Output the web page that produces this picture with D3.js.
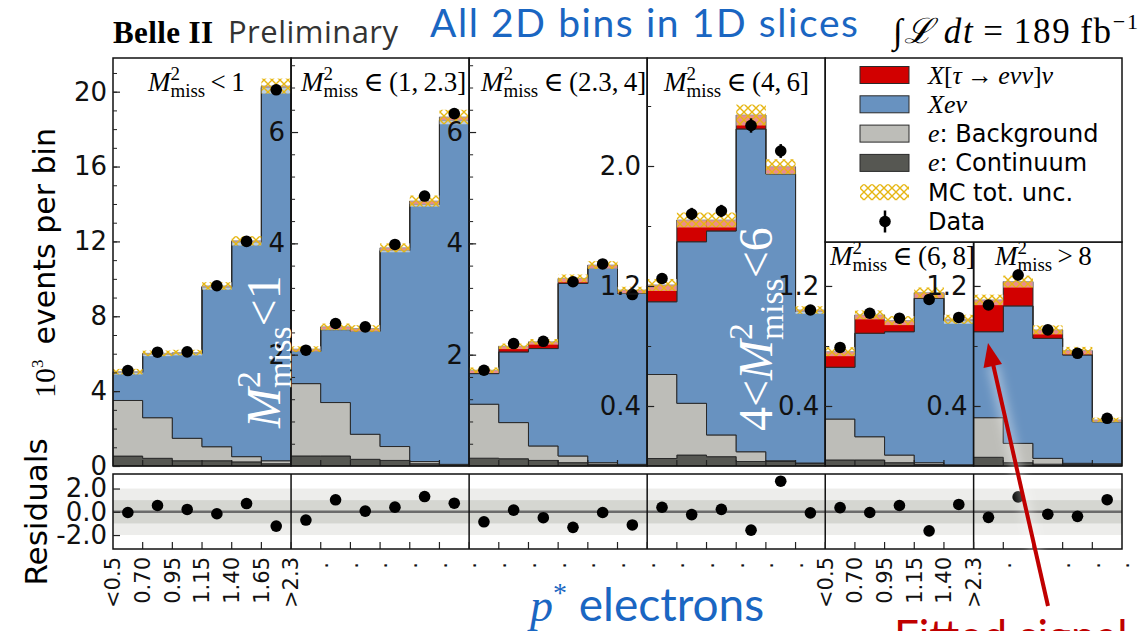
<!DOCTYPE html>
<html>
<head>
<meta charset="utf-8">
<script src="https://d3js.org/d3.v7.min.js"></script>
<style>
body {margin: 0; background: white;}
</style>
</head>
<body>
<svg id="chart" width="1145" height="631"></svg>
<script>
// ---- data (units of 10^3 events) ----
var nBins = [6, 6, 6, 6, 5, 5];
var panelCuts = ["<\u20091", "\u2208\u2009(1,\u20092.3]", "\u2208\u2009(2.3,\u20094]", "\u2208\u2009(4,\u20096]", "\u2208\u2009(6,\u20098]", ">\u20098"];
var edgeLabels = [
  ["<0.5", "0.70", "0.95", "1.15", "1.40", "1.65", ">2.3"],
  [], [], [],
  ["<0.5", "0.70", "0.95", "1.15", "1.40", ">2.3"],
  []
];
var continuum = [
  [0.53, 0.41, 0.28, 0.28, 0.22, 0.12],
  [0.18, 0.18, 0.12, 0.10, 0.04, 0.02],
  [0.14, 0.13, 0.10, 0.06, 0.03, 0.02],
  [0.05, 0.073, 0.062, 0.03, 0.03, 0.02],
  [0.04, 0.04, 0.022, 0.01, 0.005],
  [0.058, 0.022, 0.012, 0.01, 0.01]
];
var background = [
  [2.97, 2.17, 1.20, 0.75, 0.28, 0.16],
  [1.30, 0.96, 0.45, 0.25, 0.04, 0.01],
  [0.97, 0.65, 0.26, 0.12, 0.03, 0.01],
  [0.56, 0.345, 0.145, 0.065, 0.005, 0.0],
  [0.273, 0.155, 0.051, 0.012, 0.003],
  [0.264, 0.129, 0.039, 0.008, 0.005]
];
var xenu = [
  [1.50, 3.39, 4.53, 8.53, 11.47, 19.94],
  [0.58, 1.31, 1.85, 3.52, 4.62, 6.18],
  [0.55, 1.27, 1.75, 3.10, 3.49, 3.07],
  [0.485, 1.077, 1.36, 2.152, 1.912, 1.01],
  [0.345, 0.69, 0.822, 1.096, 0.961],
  [0.573, 0.916, 0.80, 0.722, 0.28]
];
var signal = [
  [0.04, 0.05, 0.05, 0.06, 0.06, 0.08],
  [0.04, 0.05, 0.05, 0.05, 0.06, 0.06],
  [0.06, 0.10, 0.12, 0.09, 0.06, 0.06],
  [0.112, 0.145, 0.073, 0.093, 0.048, 0.01],
  [0.104, 0.122, 0.074, 0.037, 0.009],
  [0.212, 0.162, 0.056, 0.029, 0.012]
];
var mcUnc = [
  [0.15, 0.15, 0.15, 0.2, 0.25, 0.4],
  [0.05, 0.06, 0.06, 0.08, 0.1, 0.13],
  [0.05, 0.05, 0.05, 0.07, 0.07, 0.06],
  [0.04, 0.05, 0.05, 0.07, 0.05, 0.025],
  [0.03, 0.03, 0.03, 0.035, 0.03],
  [0.035, 0.04, 0.03, 0.025, 0.015]
];
var dataVals = [
  [5.10, 6.08, 6.10, 9.63, 12.0, 20.1],
  [2.08, 2.56, 2.50, 3.98, 4.85, 6.33],
  [1.72, 2.20, 2.24, 3.31, 3.63, 3.08],
  [1.25, 1.68, 1.70, 2.27, 2.10, 1.04],
  [0.79, 1.018, 0.985, 1.11, 0.99],
  [1.073, 1.273, 0.907, 0.751, 0.318]
];
var dataErr = [
  [0.07, 0.08, 0.08, 0.10, 0.11, 0.14],
  [0.045, 0.05, 0.05, 0.063, 0.07, 0.08],
  [0.04, 0.047, 0.047, 0.058, 0.06, 0.055],
  [0.035, 0.041, 0.041, 0.048, 0.046, 0.032],
  [0.028, 0.032, 0.031, 0.033, 0.031],
  [0.033, 0.036, 0.03, 0.027, 0.018]
];
var residuals = [
  [-0.06, 0.54, 0.20, -0.17, 0.71, -1.23],
  [-0.71, 1.03, 0.06, 0.40, 1.31, 0.74],
  [-0.86, 0.14, -0.51, -1.34, -0.06, -1.13],
  [0.39, -0.24, 0.21, -1.58, 2.63, -0.09],
  [0.36, -0.06, 0.54, -1.64, 0.63],
  [-0.48, 1.28, -0.21, -0.39, 1.04]
];
var yMax = [21.8, 7.33, 7.33, 2.72, 1.493, 1.493];
var yMajor = [[0, 4, 8, 12, 16, 20], [2, 4, 6], [2, 4, 6], [0.4, 1.2, 2.0], [0.4, 1.2], [0.4, 1.2]];
var yMinorStep = [1, 0.4, 0.4, 0.4, 0.4, 0.4];
var resTicks = [-2, 0, 2];
var legendNames = ["sig", "xe", "bg", "cont", "unc", "data"];

// ---- layout ----
var serif = "'Liberation Serif', 'DejaVu Serif', serif";
var sans = "'DejaVu Sans', sans-serif";
var blueTxt = "#1a66c2";
var colors = {cont: "#565752", bg: "#bdbdb8", xe: "#6892c0", sig: "#d20000"};
var L = 113, R = 1122, T = 58, B = 466, LEGB = 242, RT = 474, RB = 549;

var svg = d3.select("#chart").attr("font-family", sans);
var defs = svg.append("defs");
var pat = defs.append("pattern").attr("id", "hatch")
  .attr("patternUnits", "userSpaceOnUse").attr("width", 8).attr("height", 8);
pat.append("rect").attr("width", 8).attr("height", 8).attr("fill", "white").attr("fill-opacity", 0.55);
pat.append("path").attr("d", "M-1,-1 L9,9 M9,-1 L-1,9")
  .attr("stroke", "#e6b612").attr("stroke-width", 1.4);
defs.append("filter").attr("id", "glow").attr("x", "-50%").attr("y", "-50%")
  .attr("width", "200%").attr("height", "200%")
  .append("feGaussianBlur").attr("stdDeviation", 5);

var starts = [0];
nBins.forEach(function(n) { starts.push(starts[starts.length - 1] + n); });
var x = d3.scaleLinear().domain([0, d3.sum(nBins)]).range([L, R]);
var yRes = d3.scaleLinear().domain([-3.2, 3.25]).range([RB, RT]);

function mMiss(t, fs, after) {
  t.append("tspan").attr("font-style", "italic").text("M");
  t.append("tspan").attr("font-size", fs * 0.7).attr("dy", -fs * 0.42).text("2");
  t.append("tspan").attr("font-size", fs * 0.7).attr("dx", -fs * 0.35).attr("dy", fs * 0.64).text("miss");
  t.append("tspan").attr("dy", -fs * 0.22).text(after);
}

// ---- upper panels ----
nBins.forEach(function(n, p) {
  var s = starts[p];
  var top = p < 4 ? T : LEGB;
  var y = d3.scaleLinear().domain([0, yMax[p]]).range([B, top]);
  var g = svg.append("g");
  var rows = d3.range(n).map(function(i) {
    return {cont: continuum[p][i], bg: background[p][i], xe: xenu[p][i], sig: signal[p][i]};
  });
  var stack = d3.stack().keys(["cont", "bg", "xe", "sig"])(rows);
  var area = d3.area().x(function(d) { return d.x; })
    .y0(function(d) { return y(d.lo); }).y1(function(d) { return y(d.hi); });

  stack.forEach(function(layer) {
    var pts = [];
    layer.forEach(function(d, i) {
      pts.push({x: x(s + i), lo: d[0], hi: d[1]});
      pts.push({x: x(s + i + 1), lo: d[0], hi: d[1]});
    });
    g.append("path").attr("d", area(pts))
      .attr("fill", colors[layer.key]).attr("stroke", "#2a2a2a").attr("stroke-width", 1);
  });

  var tot = stack[3].map(function(d) { return d[1]; });
  // MC uncertainty band
  g.selectAll("rect.unc").data(tot).enter().append("rect").attr("class", "unc")
    .attr("x", function(d, i) { return x(s + i); })
    .attr("width", function(d, i) { return x(s + i + 1) - x(s + i); })
    .attr("y", function(d, i) { return y(d + mcUnc[p][i]); })
    .attr("height", function(d, i) { return y(d - mcUnc[p][i]) - y(d + mcUnc[p][i]); })
    .attr("fill", "url(#hatch)");

  // data points
  g.selectAll("line.err").data(dataVals[p]).enter().append("line")
    .attr("x1", function(d, i) { return x(s + i + 0.5); })
    .attr("x2", function(d, i) { return x(s + i + 0.5); })
    .attr("y1", function(d, i) { return y(d - dataErr[p][i]); })
    .attr("y2", function(d, i) { return y(d + dataErr[p][i]); })
    .attr("stroke", "black").attr("stroke-width", 2.5);
  g.selectAll("circle.dat").data(dataVals[p]).enter().append("circle")
    .attr("cx", function(d, i) { return x(s + i + 0.5); })
    .attr("cy", function(d) { return y(d); })
    .attr("r", 5.8).attr("fill", "black");

  // bottom ticks at bin edges
  d3.range(1, n).forEach(function(k) {
    g.append("line").attr("x1", x(s + k)).attr("x2", x(s + k)).attr("y1", B).attr("y2", B - 6)
      .attr("stroke", "#222").attr("stroke-width", 1.2);
  });

  // frame
  g.append("rect").attr("x", x(s)).attr("y", top).attr("width", x(s + n) - x(s)).attr("height", B - top)
    .attr("fill", "none").attr("stroke", "#111").attr("stroke-width", 1.5);

  // y axis (ticks point into the panel, labels on the left)
  var fmt = p < 3 ? d3.format("d") : d3.format(".1f");
  var ax = g.append("g").attr("transform", "translate(" + x(s) + ",0)")
    .call(d3.axisLeft(y).tickValues(yMajor[p]).tickSize(-7).tickPadding(6).tickFormat(fmt));
  ax.select(".domain").remove();
  ax.selectAll("line").attr("stroke", "#222").attr("stroke-width", 1.2);
  ax.selectAll("text").attr("font-size", 26).attr("font-family", sans).attr("fill", "#111");
  var minor = d3.range(yMinorStep[p], yMax[p], yMinorStep[p]);
  var axm = g.append("g").attr("transform", "translate(" + x(s) + ",0)")
    .call(d3.axisLeft(y).tickValues(minor).tickSize(-4).tickFormat(""));
  axm.select(".domain").remove();
  axm.selectAll("line").attr("stroke", "#222").attr("stroke-width", 1);

  // panel title
  var lx = [148, 301, 481, 664, 830, 995][p];
  var ly = p < 4 ? 91 : 265;
  var t = svg.append("text").attr("x", lx).attr("y", ly).attr("font-family", serif).attr("font-size", 27);
  mMiss(t, 27, "\u2009" + panelCuts[p]);
});

// ---- residual panel ----
var rg = svg.append("g");
rg.append("rect").attr("x", L).attr("y", yRes(2)).attr("width", R - L).attr("height", yRes(-2) - yRes(2)).attr("fill", "#ededeb");
rg.append("rect").attr("x", L).attr("y", yRes(1)).attr("width", R - L).attr("height", yRes(-1) - yRes(1)).attr("fill", "#d5d6d1");
rg.append("line").attr("x1", L).attr("x2", R).attr("y1", yRes(0)).attr("y2", yRes(0))
  .attr("stroke", "#6b6b6b").attr("stroke-width", 2.5);
nBins.forEach(function(n, p) {
  var s = starts[p];
  rg.selectAll(null).data(residuals[p]).enter().append("circle")
    .attr("cx", function(d, i) { return x(s + i + 0.5); })
    .attr("cy", function(d) { return yRes(d); })
    .attr("r", 5.8).attr("fill", "black");
  if (p > 0) rg.append("line").attr("x1", x(s)).attr("x2", x(s)).attr("y1", RT).attr("y2", RB)
    .attr("stroke", "#111").attr("stroke-width", 1.5);
});
d3.range(1, d3.sum(nBins)).forEach(function(k) {
  rg.append("line").attr("x1", x(k)).attr("x2", x(k)).attr("y1", RB).attr("y2", RB - 7)
    .attr("stroke", "#222").attr("stroke-width", 1.2);
});
rg.append("rect").attr("x", L).attr("y", RT).attr("width", R - L).attr("height", RB - RT)
  .attr("fill", "none").attr("stroke", "#111").attr("stroke-width", 1.5);
var rax = rg.append("g").attr("transform", "translate(" + L + ",0)")
  .call(d3.axisLeft(yRes).tickValues(resTicks).tickSize(-7).tickPadding(6)
    .tickFormat(function(d) { return d.toFixed(1); }));
rax.select(".domain").remove();
rax.selectAll("line").attr("stroke", "#222").attr("stroke-width", 1.2);
rax.selectAll("text").attr("font-size", 26).attr("font-family", sans).attr("fill", "#111");

// x tick labels (rotated)
nBins.forEach(function(n, p) {
  var s = starts[p];
  var labs = edgeLabels[p];
  d3.range(0, n + 1).forEach(function(k) {
    var txt;
    if (labs.length) txt = labs[k];
    else if (k === 0 || (p === 3 && k === n)) return;
    else txt = ".";
    svg.append("text")
      .attr("transform", "translate(" + x(s + k) + "," + (labs.length ? 557 : 562) + ") rotate(-90)")
      .attr("text-anchor", "end").attr("dy", "0.35em")
      .attr("font-size", 21).attr("fill", "#111")
      .text(txt);
  });
});

// ---- axis titles ----
var yl = svg.append("text").attr("transform", "translate(55,263) rotate(-90)")
  .attr("text-anchor", "middle").attr("font-size", 30);
yl.append("tspan").attr("font-family", serif).text("10");
yl.append("tspan").attr("font-family", serif).attr("font-size", 17).attr("dy", -12).text("3");
yl.append("tspan").attr("dy", 12).text("\u2002events per bin");
svg.append("text").attr("transform", "translate(47,512) rotate(-90)")
  .attr("text-anchor", "middle").attr("font-size", 31).text("Residuals");

// ---- legend ----
var lg = svg.append("g");
lg.append("rect").attr("x", x(starts[4])).attr("y", T).attr("width", R - x(starts[4])).attr("height", LEGB - T)
  .attr("fill", "white").attr("stroke", "#111").attr("stroke-width", 1.5);
var rowY = d3.scalePoint().domain(legendNames).range([75, 221.5]);
legendNames.forEach(function(k) {
  var cy = rowY(k);
  if (k === "data") {
    lg.append("line").attr("x1", 885).attr("x2", 885).attr("y1", cy - 11).attr("y2", cy + 11)
      .attr("stroke", "black").attr("stroke-width", 2.5);
    lg.append("circle").attr("cx", 885).attr("cy", cy).attr("r", 5.8).attr("fill", "black");
  } else if (k === "unc") {
    lg.append("rect").attr("x", 860).attr("y", cy - 8).attr("width", 49).attr("height", 16).attr("fill", "url(#hatch)");
  } else {
    lg.append("rect").attr("x", 860).attr("y", cy - 8.5).attr("width", 49).attr("height", 17)
      .attr("fill", colors[k]).attr("stroke", "#2a2a2a").attr("stroke-width", 1);
  }
  var t = lg.append("text").attr("x", 928).attr("y", cy + 8.5).attr("font-size", 24);
  if (k === "sig") {
    t.attr("font-family", serif).attr("font-size", 26);
    t.append("tspan").attr("font-style", "italic").text("X");
    t.append("tspan").text("[");
    t.append("tspan").attr("font-style", "italic").text("\u03c4");
    t.append("tspan").text("\u2009\u2192\u2009");
    t.append("tspan").attr("font-style", "italic").text("e\u03bd\u03bd");
    t.append("tspan").text("]");
    t.append("tspan").attr("font-style", "italic").text("\u03bd");
  } else if (k === "xe") {
    t.attr("font-family", serif).attr("font-size", 26).attr("font-style", "italic").text("Xe\u03bd");
  } else if (k === "bg" || k === "cont") {
    t.append("tspan").attr("font-family", serif).attr("font-size", 26).attr("font-style", "italic").text("e");
    t.append("tspan").text(k === "bg" ? ": Background" : ": Continuum");
  } else if (k === "unc") {
    t.text("MC tot. unc.");
  } else {
    t.text("Data");
  }
});

// ---- headers ----
svg.append("text").attr("x", 113).attr("y", 43).attr("font-family", serif).attr("font-weight", "bold")
  .attr("font-size", 31).attr("textLength", 100).text("Belle II");
svg.append("text").attr("x", 228).attr("y", 43).attr("font-family", "'Open Sans', sans-serif")
  .attr("font-size", 31).attr("fill", "#333").attr("textLength", 170).text("Preliminary");
svg.append("text").attr("x", 430).attr("y", 37).attr("font-family", "Lato, sans-serif").attr("font-size", 39)
  .attr("textLength", 428).attr("fill", blueTxt).text("All 2D bins in 1D slices");
var lum = svg.append("text").attr("x", 893).attr("y", 43).attr("font-family", serif).attr("font-size", 35)
  .attr("textLength", 245);
lum.append("tspan").attr("font-style", "italic").text("\u222b\u2112\u2009dt");
lum.append("tspan").text("\u2009=\u2009189\u2009fb");
lum.append("tspan").attr("font-size", 22).attr("dy", -14).text("\u22121");

// rotated annotations inside the bars
var a1 = svg.append("text").attr("transform", "translate(280,428) rotate(-90)")
  .attr("font-family", serif).attr("font-size", 48).attr("fill", "white");
mMiss(a1, 48, "<1");
var a4 = svg.append("text").attr("transform", "translate(772,431) rotate(-90)")
  .attr("font-family", serif).attr("font-size", 48).attr("fill", "white");
a4.append("tspan").text("4<");
mMiss(a4, 48, "<6");

// x axis title
var xt = svg.append("text").attr("x", 530).attr("y", 621).attr("fill", blueTxt);
xt.append("tspan").attr("font-family", serif).attr("font-style", "italic").attr("font-size", 46).text("p");
xt.append("tspan").attr("font-family", serif).attr("font-size", 28).attr("dy", -19).text("*");
xt.append("tspan").attr("font-family", "Lato, sans-serif").attr("font-size", 46).attr("dy", 19).text(" electrons");

// fitted signal arrow
svg.append("line").attr("x1", 1040).attr("y1", 570).attr("x2", 993).attr("y2", 365)
  .attr("stroke", "white").attr("stroke-width", 12).attr("stroke-opacity", 0.35).attr("filter", "url(#glow)");
svg.append("line").attr("x1", 1048).attr("y1", 606).attr("x2", 993).attr("y2", 364)
  .attr("stroke", "#c00000").attr("stroke-width", 4);
svg.append("path").attr("d", "M988,343 L983.5,368 L1002,364 Z").attr("fill", "#c00000");
svg.append("text").attr("x", 894).attr("y", 652).attr("font-family", "Lato, sans-serif").attr("font-size", 44)
  .attr("fill", "#c00000").text("Fitted signal");
</script>
</body>
</html>
